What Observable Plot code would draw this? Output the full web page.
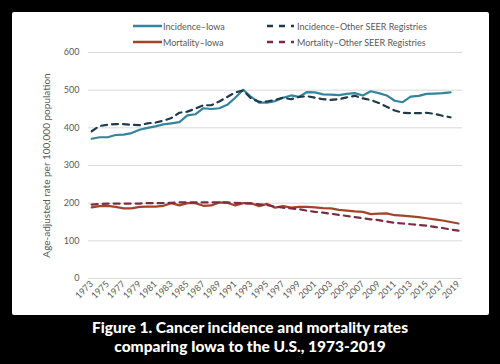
<!DOCTYPE html>
<html><head><meta charset="utf-8">
<script src="https://cdn.jsdelivr.net/npm/d3@7"></script>
<script src="https://cdn.jsdelivr.net/npm/@observablehq/plot@0.6"></script>
<style>
html,body{margin:0;padding:0;background:#000;width:500px;height:364px;overflow:hidden;}
#panel{position:absolute;left:12px;top:12px;width:477px;height:303px;background:#fff;border-radius:2px;overflow:hidden;}
#chart{position:absolute;left:0;top:0;}
#legend{position:absolute;left:0;top:0;width:477px;height:40px;font-family:Lato,sans-serif;font-size:9px;color:#595959;}
.item{position:absolute;display:flex;align-items:center;white-space:nowrap;height:12px;}
.item svg{display:block;margin-right:1px;}
#caption{position:absolute;left:0;top:318px;width:500px;text-align:center;color:#fff;font-family:Lato,sans-serif;font-weight:900;font-size:15.5px;line-height:19px;}
</style></head><body>
<div id="panel"><div id="chart"></div><div id="legend"></div></div>
<div id="caption">Figure 1. Cancer incidence and mortality rates<br>comparing Iowa to the U.S., 1973-2019</div>
<script>
// Categories
const years = [1973,1974,1975,1976,1977,1978,1979,1980,1981,1982,1983,1984,1985,1986,1987,1988,1989,1990,
  1991,1992,1993,1994,1995,1996,1997,1998,1999,2000,2001,2002,2003,2004,2005,2006,2007,2008,2009,2010,
  2011,2012,2013,2014,2015,2016,2017,2018,2019];
const xTicks = [1973,1975,1977,1979,1981,1983,1985,1987,1989,1991,1993,1995,1997,1999,2001,2003,2005,2007,2009,2011,2013,2015,2017,2019];
const yTicks = [0,100,200,300,400,500,600];
const seriesNames = ["Incidence–Iowa","Incidence–Other SEER Registries","Mortality–Iowa","Mortality–Other SEER Registries"];

// Incidence: 1973-2018
const incidenceIowa = [371,375,375,381,382,386,395,400,404,409,412,415,433,436,452,450,452,461,480,501,
  482,467,467,471,480,486,482,495,494,489,488,487,490,492,486,497,492,486,472,468,483,485,490,491,492,494];
const incidenceOther = [391,405,408,410,410,408,407,412,414,419,426,440,443,451,460,460,470,482,494,499,
  478,469,470,474,480,476,482,484,480,476,474,476,481,485,478,474,466,456,446,440,439,439,440,437,432,428];
// Mortality: 1973-2019
const mortalityIowa = [189,192,193,190,186,186,190,191,191,193,200,194,200,200,193,194,202,201,194,200,
  200,192,198,188,192,188,190,190,189,187,186,182,180,178,177,171,172,173,168,167,165,163,160,157,154,150,146];
const mortalityOther = [196,198,199,199,199,199,199,200,200,200,201,202,202,202,202,202,202,202,201,200,
  199,197,195,191,188,186,184,180,177,175,172,169,166,163,160,157,155,151,148,146,144,142,140,137,134,130,127];

const colors = ["#31859C","#1F3A4B","#A3432A","#7B2C43"];
const dashes = [null,"6,5",null,"6,5"];
const valuesList = [incidenceIowa, incidenceOther, mortalityIowa, mortalityOther];

const rows = valuesList.map(vals => vals.map((v,i) => ({year: years[i], value: v})));

const lineMarks = rows.map((data,k) => Plot.line(data, {
  x: "year", y: "value", stroke: colors[k], strokeWidth: 2.2,
  strokeDasharray: dashes[k] ?? undefined, strokeLinejoin: "round", curve: "linear"
}));

const chart = Plot.plot({
  width: 477, height: 303,
  marginLeft: 76, marginRight: 27, marginTop: 40, marginBottom: 37,
  style: {fontFamily: "Lato, sans-serif", fontSize: "9px", color: "#595959", background: "transparent"},
  x: {domain: [1972.6, 2019.5]},
  y: {domain: [0, 600]},
  marks: [
    Plot.gridY(yTicks, {stroke: "#D9D9D9", strokeOpacity: 1, strokeWidth: 1}),
    Plot.axisY(yTicks, {tickSize: 0, tickPadding: 9, label: "Age-adjusted rate per 100,000 population",
      labelAnchor: "center", labelArrow: "none", labelOffset: 46, fill: "#595959"}),
    Plot.axisX(xTicks, {tickSize: 0, tickPadding: 4, tickRotate: -45, tickFormat: d => String(d), label: null, fill: "#595959"}),
    ...lineMarks
  ]
});
document.getElementById("chart").appendChild(chart);
d3.select(chart).selectAll('[aria-label="y-axis label"] text').style("font-size","10px");

// Legend
const legendPos = [[121,8],[255,8],[121,24],[255,24]];
const legend = d3.select("#legend");
seriesNames.forEach((name,k) => {
  const it = legend.append("div").attr("class","item")
    .style("left", legendPos[k][0]+"px").style("top", legendPos[k][1]+"px");
  const w = dashes[k] ? 27 : 29;
  const s = it.append("svg").attr("width", w).attr("height", 12);
  s.append("line").attr("x1",0).attr("x2",w).attr("y1",6).attr("y2",6)
    .attr("stroke", colors[k]).attr("stroke-width", 2.5)
    .attr("stroke-dasharray", dashes[k] ? "6,6" : null);
  it.append("span").text(name).style("margin-left", dashes[k] ? "2px" : "0px");
});
</script>
</body></html>
